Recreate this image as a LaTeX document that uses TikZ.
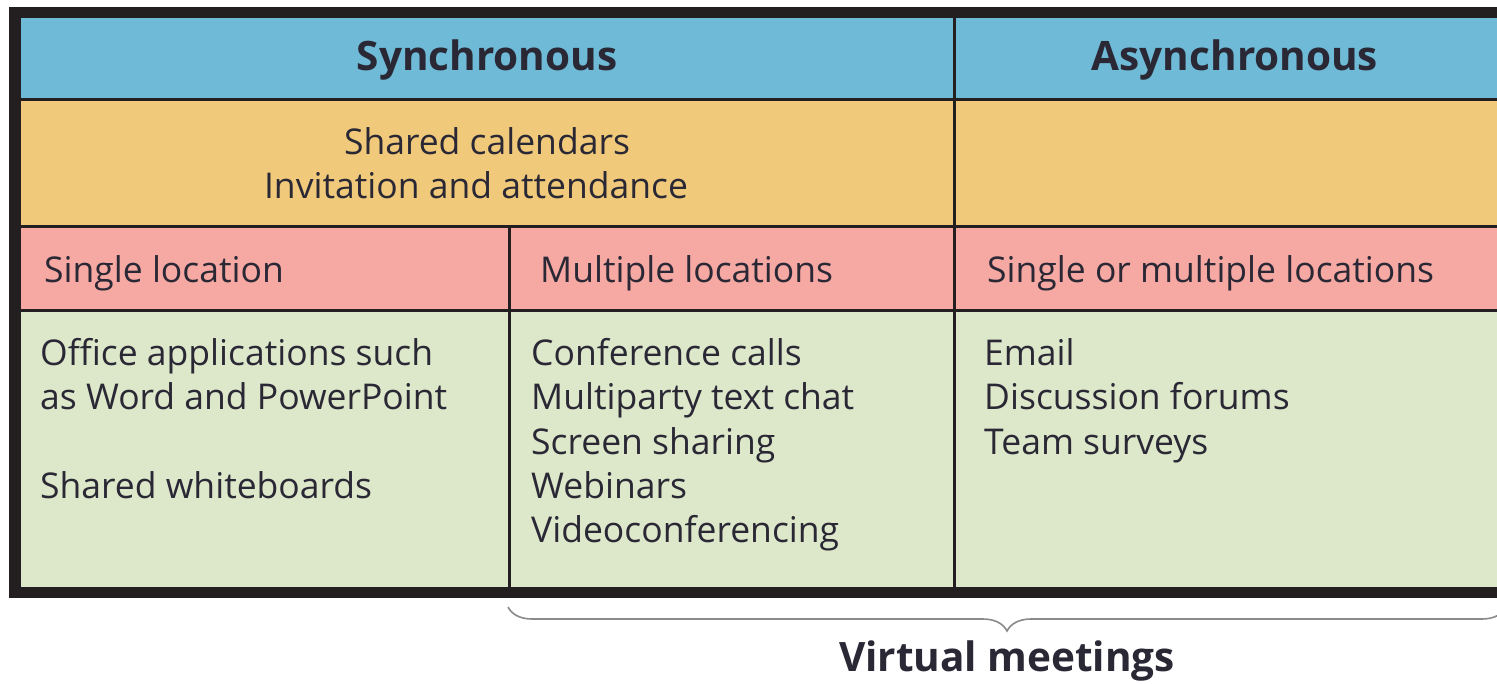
\documentclass[tikz,border=0pt]{standalone}
\usepackage{fontspec}
\setmainfont{Open Sans}
\usetikzlibrary{decorations.pathreplacing}
\definecolor{hdrblue}{HTML}{6EBAD7}
\definecolor{rowgold}{HTML}{F0CA7A}
\definecolor{rowpink}{HTML}{F6A8A3}
\definecolor{rowgreen}{HTML}{DDE8CA}
\definecolor{frame}{HTML}{231F20}
\definecolor{ink}{HTML}{2A2835}
\definecolor{bracegray}{HTML}{8A8A8A}
\begin{document}
\begin{tikzpicture}[x=1pt,y=-1pt,
  txt/.style={inner sep=0pt, anchor=base west, text=ink, font=\fontsize{35.5}{40}\selectfont},
  ctxt/.style={txt, anchor=base},
  hdr/.style={inner sep=0pt, anchor=base, text=ink, font=\fontsize{40.5}{44}\selectfont\bfseries},
  gridline/.style={draw=frame, line width=3pt},
  outer/.style={draw=frame, line width=11.5pt}]
\useasboundingbox (0,0) rectangle (1497,684);
\fill[white] (0,0) rectangle (1497,684);
% fills
\fill[hdrblue]  (21,18)  rectangle (1560,100);
\fill[rowgold]  (21,100) rectangle (1560,227);
\fill[rowpink]  (21,227) rectangle (1560,311);
\fill[rowgreen] (21,311) rectangle (1560,587);
% grid
\coordinate (h1l) at (21,100);  \coordinate (h1r) at (1560,100);
\coordinate (h2l) at (21,227);  \coordinate (h2r) at (1560,227);
\coordinate (h3l) at (21,311);  \coordinate (h3r) at (1560,311);
\coordinate (v1t) at (954,18);  \coordinate (v1b) at (954,587);
\coordinate (v2t) at (509,227); \coordinate (v2b) at (509,587);
\draw[gridline] (h1l) -- (h1r);
\draw[gridline] (h2l) -- (h2r);
\draw[gridline] (h3l) -- (h3r);
\draw[gridline] (v1t) -- (v1b);
\draw[gridline] (v2t) -- (v2b);
\draw[outer] (15,12.5) rectangle (1570,592.5);
% headers
\node[hdr] (sync)  at (487,71) {Synchronous};
\node[hdr] (async) at (1235,71) {Asynchronous};
% gold row
\node[ctxt] (cal) at (487,155) {Shared calendars};
\node[ctxt] (inv) at (476,199) {Invitation and attendance};
% pink row
\node[txt] (single) at (44,283) {Single location};
\node[txt] (multi)  at (540,283) {Multiple locations};
\node[txt] (either) at (987,283) {Single or multiple locations};
% green row, column 1
\node[txt] (c1a) at (40,366) {Office applications such};
\node[txt] (c1b) at (40,410) {as Word and PowerPoint};
\node[txt] (c1c) at (40,498) {Shared whiteboards};
% column 2
\node[txt] (c2a) at (531,366) {Conference calls};
\node[txt] (c2b) at (531,410) {Multiparty text chat};
\node[txt] (c2c) at (531,454) {Screen sharing};
\node[txt] (c2d) at (531,498) {Webinars};
\node[txt] (c2e) at (531,542) {Videoconferencing};
% column 3
\node[txt] (c3a) at (984,366) {Email};
\node[txt] (c3b) at (984,410) {Discussion forums};
\node[txt] (c3c) at (984,454) {Team surveys};
% brace
\coordinate (bl) at (508,607);
\coordinate (br) at (1506,607);
\draw[bracegray, line width=1.6pt, decorate, decoration={brace, amplitude=24pt}] (br) -- (bl);
\node[hdr] (vm) at (1007,671) {Virtual meetings};
\end{tikzpicture}
\end{document}
